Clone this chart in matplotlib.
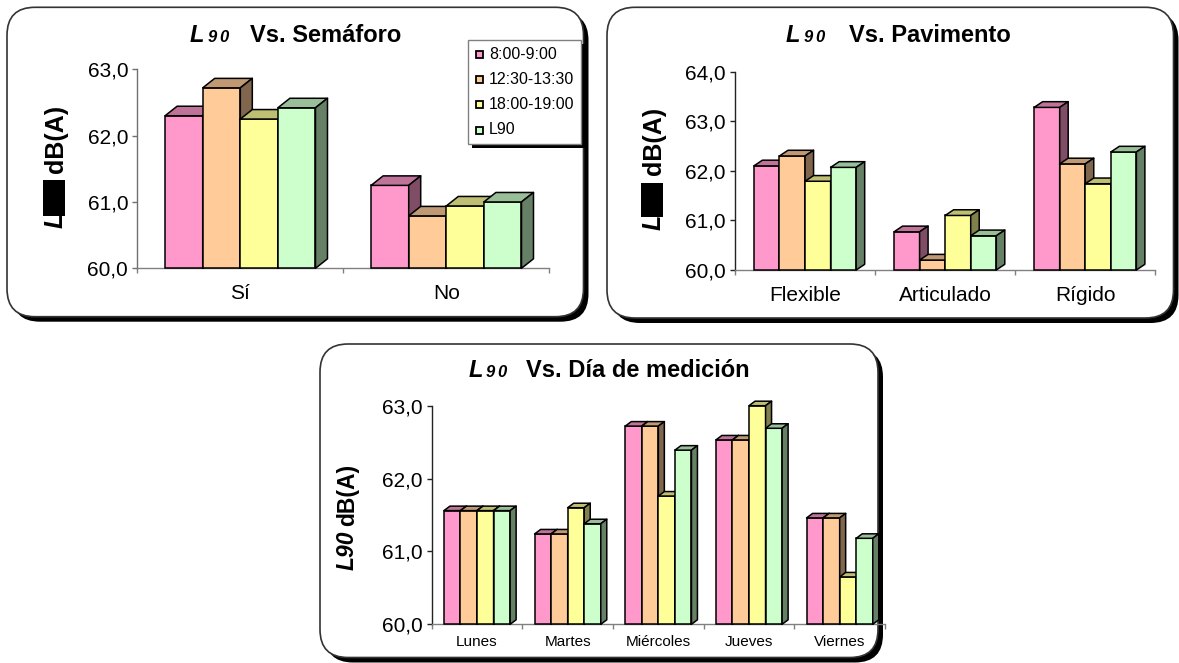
import matplotlib
matplotlib.use('Agg')
import matplotlib.pyplot as plt
from matplotlib.patches import FancyBboxPatch, Rectangle, Polygon
import numpy as np

plt.rcParams['font.family'] = ['Liberation Sans', 'DejaVu Sans']

W, H = 1179, 663

# ---------------- data ----------------
series_names = ['8:00-9:00', '12:30-13:30', '18:00-19:00', 'L90']
front_colors = ['#FF99CC', '#FFCC99', '#FFFF99', '#CCFFCC']

sem_cats = ['Sí', 'No']
sem_8 = [62.30, 61.25]
sem_12 = [62.72, 60.79]
sem_18 = [62.25, 60.94]
sem_L90 = [62.42, 61.00]
sem_yticks = [60, 61, 62, 63]

pav_cats = ['Flexible', 'Articulado', 'Rígido']
pav_8 = [62.10, 60.77, 63.28]
pav_12 = [62.30, 60.20, 62.14]
pav_18 = [61.79, 61.10, 61.74]
pav_L90 = [62.07, 60.69, 62.38]
pav_yticks = [60, 61, 62, 63, 64]

dia_cats = ['Lunes', 'Martes', 'Miércoles', 'Jueves', 'Viernes']
dia_8 = [61.56, 61.24, 62.72, 62.53, 61.46]
dia_12 = [61.56, 61.24, 62.72, 62.53, 61.46]
dia_18 = [61.56, 61.60, 61.76, 63.00, 60.65]
dia_L90 = [61.56, 61.38, 62.39, 62.69, 61.18]
dia_yticks = [60, 61, 62, 63]


def fmt(v):
    return f"{v:.1f}".replace('.', ',')


def shade(hexcol, f):
    r, g, b = matplotlib.colors.to_rgb(hexcol)
    return (r * f, g * f, b * f)


fig = plt.figure(figsize=(W / 100, H / 100), dpi=100)
fig.patch.set_facecolor('white')

# background overlay (pixel coordinates, y down)
ax_bg = fig.add_axes([0, 0, 1, 1], zorder=0)
ax_bg.set_xlim(0, W)
ax_bg.set_ylim(H, 0)
ax_bg.axis('off')


def panel_box(x0, y0, x1, y1):
    r = 28
    sh = FancyBboxPatch((x0 + 5, y0 + 5), x1 - x0, y1 - y0,
                        boxstyle=f'round,pad=0,rounding_size={r}',
                        fc='black', ec='none')
    bx = FancyBboxPatch((x0, y0), x1 - x0, y1 - y0,
                        boxstyle=f'round,pad=0,rounding_size={r}',
                        fc='white', ec='#333333', lw=1.2)
    ax_bg.add_patch(sh)
    ax_bg.add_patch(bx)


panel_box(7, 7.3, 583.5, 316.7)
panel_box(607, 7.3, 1173.5, 318)
panel_box(320, 344, 878, 657.5)


def px_axes(left, right, top, bottom):
    ax = fig.add_axes([left / W, 1 - bottom / H, (right - left) / W, (bottom - top) / H], zorder=1)
    ax.set_facecolor('none')
    return ax


def draw_chart(ax, cats, vals, yticks, dx_px, dy_px, ycol, tick_fs, cat_fs, cat_pad):
    n = len(cats)
    ymin, ymax = yticks[0], yticks[-1]
    ax.set_xlim(-0.5, n - 0.5)
    ax.set_ylim(ymin, ymax)
    pos = ax.get_position()
    wpx = pos.width * W
    hpx = pos.height * H
    dxd = dx_px * n / wpx
    dyd = dy_px * (ymax - ymin) / hpx
    w = 0.1825
    k = 0
    for j in range(n):
        for i in range(len(vals)):
            x0 = j + (i - 2) * w
            h = vals[i][j]
            z = 3 + k * 0.01
            c = front_colors[i]
            ax.bar(x0, h - ymin, bottom=ymin, width=w, align='edge', color=c,
                   edgecolor='black', linewidth=1.1, zorder=z, clip_on=False)
            top = Polygon([(x0, h), (x0 + w, h), (x0 + w + dxd, h + dyd), (x0 + dxd, h + dyd)],
                          closed=True, fc=shade(c, 0.75), ec='black', lw=1.1, zorder=z,
                          clip_on=False, joinstyle='round')
            side = Polygon([(x0 + w, ymin), (x0 + w, h), (x0 + w + dxd, h + dyd), (x0 + w + dxd, ymin + dyd)],
                           closed=True, fc=shade(c, 0.5), ec='black', lw=1.1, zorder=z,
                           clip_on=False, joinstyle='round')
            ax.add_patch(top)
            ax.add_patch(side)
            k += 1
    for s in ['top', 'right']:
        ax.spines[s].set_visible(False)
    ax.spines['left'].set_color(ycol)
    ax.spines['bottom'].set_color('#808080')
    ax.spines['left'].set_linewidth(1.0)
    ax.spines['bottom'].set_linewidth(1.0)
    ax.spines['left'].set_zorder(2.6)
    ax.spines['bottom'].set_zorder(2.6)
    ax.set_yticks(yticks)
    ax.set_yticklabels([fmt(v) for v in yticks])
    ax.tick_params(axis='y', length=3.6, width=1, color=ycol, pad=3, labelsize=tick_fs)
    ax.set_xticks(range(n))
    ax.set_xticklabels(cats)
    ax.tick_params(axis='x', which='major', length=0, pad=cat_pad, labelsize=cat_fs)
    ax.set_xticks(np.arange(-0.5, n), minor=True)
    ax.tick_params(axis='x', which='minor', length=3.6, width=1, color='#808080', direction='out')


ax1 = px_axes(137.3, 549.3, 69.3, 268.3)
draw_chart(ax1, sem_cats, [sem_8, sem_12, sem_18, sem_L90], sem_yticks, 12, 9.5,
           '#707070', 15, 15, 11.5)

ax2 = px_axes(735, 1155.3, 71.7, 270)
draw_chart(ax2, pav_cats, [pav_8, pav_12, pav_18, pav_L90], pav_yticks, 8.5, 5.7,
           '#222222', 15, 15, 11.5)

ax3 = px_axes(431.7, 885, 405.7, 624.3)
draw_chart(ax3, dia_cats, [dia_8, dia_12, dia_18, dia_L90], dia_yticks, 6, 4.5,
           '#222222', 15, 11, 7.5)

# top overlay
ax_top = fig.add_axes([0, 0, 1, 1], zorder=5)
ax_top.set_xlim(0, W)
ax_top.set_ylim(H, 0)
ax_top.axis('off')

# titles
titles = [
    (190, 208, 326, 41.7, 'Vs. Semáforo'),
    (786, 804, 930, 41.7, 'Vs. Pavimento'),
    (468.7, 486, 638, 377.3, 'Vs. Día de medición'),
]
for xl, x90, xc, yb, txt in titles:
    ax_top.text(xl, yb, 'L', fontsize=17, fontweight='bold', fontstyle='italic',
                ha='left', va='baseline')
    ax_top.text(x90, yb, '9', fontsize=12, fontweight='bold', fontstyle='italic',
                ha='left', va='baseline')
    ax_top.text(x90 + 11.5, yb, '0', fontsize=12, fontweight='bold', fontstyle='italic',
                ha='left', va='baseline')
    ax_top.text(xc, yb, txt, fontsize=17, fontweight='bold', ha='center', va='baseline')

# y labels for panels 1 and 2 (subscript hidden by a black block)
for xb, yL, yd, box in [(63, 228, 173, (43, 180, 22, 36)),
                        (661, 230, 175, (640.7, 182.7, 22.6, 34.6))]:
    ax_top.text(xb, yL, 'L', fontsize=18, fontweight='bold', fontstyle='italic',
                rotation=90, rotation_mode='anchor', ha='left', va='baseline')
    ax_top.text(xb, yd, 'dB(A)', fontsize=18, fontweight='bold',
                rotation=90, rotation_mode='anchor', ha='left', va='baseline')
    ax_top.add_patch(Rectangle((box[0], box[1]), box[2], box[3], fc='black', ec='none'))

# y label for panel 3
t1 = ax_top.text(354, 570, 'L90', fontsize=16.5, fontweight='bold', fontstyle='italic',
                 rotation=90, rotation_mode='anchor', ha='left', va='baseline')
fig.canvas.draw()
bb = t1.get_window_extent(renderer=fig.canvas.get_renderer())
ax_top.text(354, 570 - bb.height - 5, 'dB(A)', fontsize=16.5, fontweight='bold',
            rotation=90, rotation_mode='anchor', ha='left', va='baseline')

# legend (panel 1)
lx0, ly0, lw_, lh_ = 468, 39.5, 113, 104
ax_top.add_patch(Rectangle((lx0 + 4, ly0 + 4), lw_, lh_, fc='black', ec='none'))
ax_top.add_patch(Rectangle((lx0, ly0), lw_, lh_, fc='white', ec='#808080', lw=1))
rows_y = [54.5, 79, 104.3, 130]
for name, col, yy in zip(series_names, front_colors, rows_y):
    ax_top.add_patch(Rectangle((475.5, yy - 3.5), 7, 7, fc=col, ec='black', lw=1.3))
    ax_top.text(489, yy, name, fontsize=11.5, ha='left', va='center')

fig.savefig('out.png', dpi=100, facecolor='white')
